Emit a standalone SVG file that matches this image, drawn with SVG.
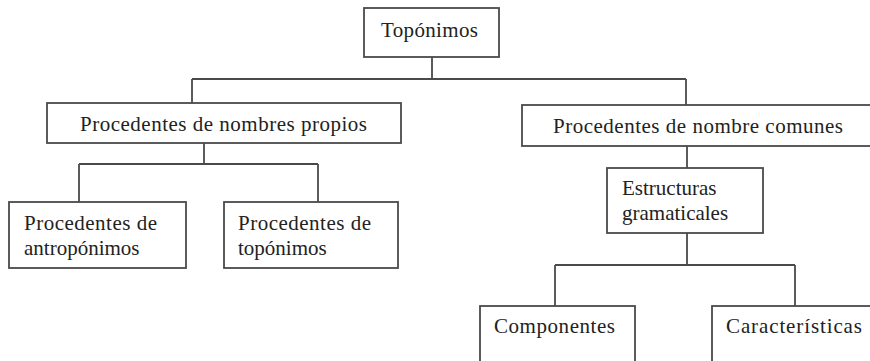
<svg xmlns="http://www.w3.org/2000/svg" width="870" height="361" viewBox="0 0 870 361">
<style>
  .box { fill: #ffffff; stroke: #4a4a4a; stroke-width: 1.8; }
  .lbl { font-family: "Liberation Serif", "Times New Roman", serif; font-size: 21px; fill: #222222; }
  .con { fill: none; stroke: #4a4a4a; stroke-width: 1.8; }
</style>
<rect width="870" height="361" fill="#ffffff"/>
<g id="connectors">
  <path class="con" d="M432,57 V79 M192,79 H686 M192,79 V103 M686,79 V105"/>
  <path class="con" d="M204,143 V164 M79,164 H318 M79,164 V202 M318,164 V202"/>
  <path class="con" d="M687,146 V168"/>
  <path class="con" d="M687,233 V265 M555,265 H795 M555,265 V306 M795,265 V306"/>
</g>
<g id="toponimos">
  <rect class="box" x="364" y="8" width="135" height="49"/>
  <text class="lbl" x="381" y="37" textLength="97">Topónimos</text>
</g>
<g id="nombres-propios">
  <rect class="box" x="47" y="103" width="354" height="40"/>
  <text class="lbl" x="80" y="131" textLength="287">Procedentes de nombres propios</text>
</g>
<g id="nombre-comunes">
  <rect class="box" x="522" y="105" width="352" height="41"/>
  <text class="lbl" x="553" y="133" textLength="290">Procedentes de nombre comunes</text>
</g>
<g id="antroponimos">
  <rect class="box" x="9" y="202" width="177" height="66"/>
  <text class="lbl" x="24" y="230" textLength="133">Procedentes de</text>
  <text class="lbl" x="24" y="255">antropónimos</text>
</g>
<g id="de-toponimos">
  <rect class="box" x="224" y="202" width="174" height="66"/>
  <text class="lbl" x="238" y="230" textLength="133">Procedentes de</text>
  <text class="lbl" x="238" y="255">topónimos</text>
</g>
<g id="estructuras">
  <rect class="box" x="607" y="168" width="156" height="65"/>
  <text class="lbl" x="622" y="195">Estructuras</text>
  <text class="lbl" x="622" y="220">gramaticales</text>
</g>
<g id="componentes">
  <rect class="box" x="480" y="306" width="155" height="62"/>
  <text class="lbl" x="494" y="333" textLength="121">Componentes</text>
</g>
<g id="caracteristicas">
  <rect class="box" x="712" y="306" width="165" height="62"/>
  <text class="lbl" x="726" y="333" textLength="136">Características</text>
</g>
</svg>
